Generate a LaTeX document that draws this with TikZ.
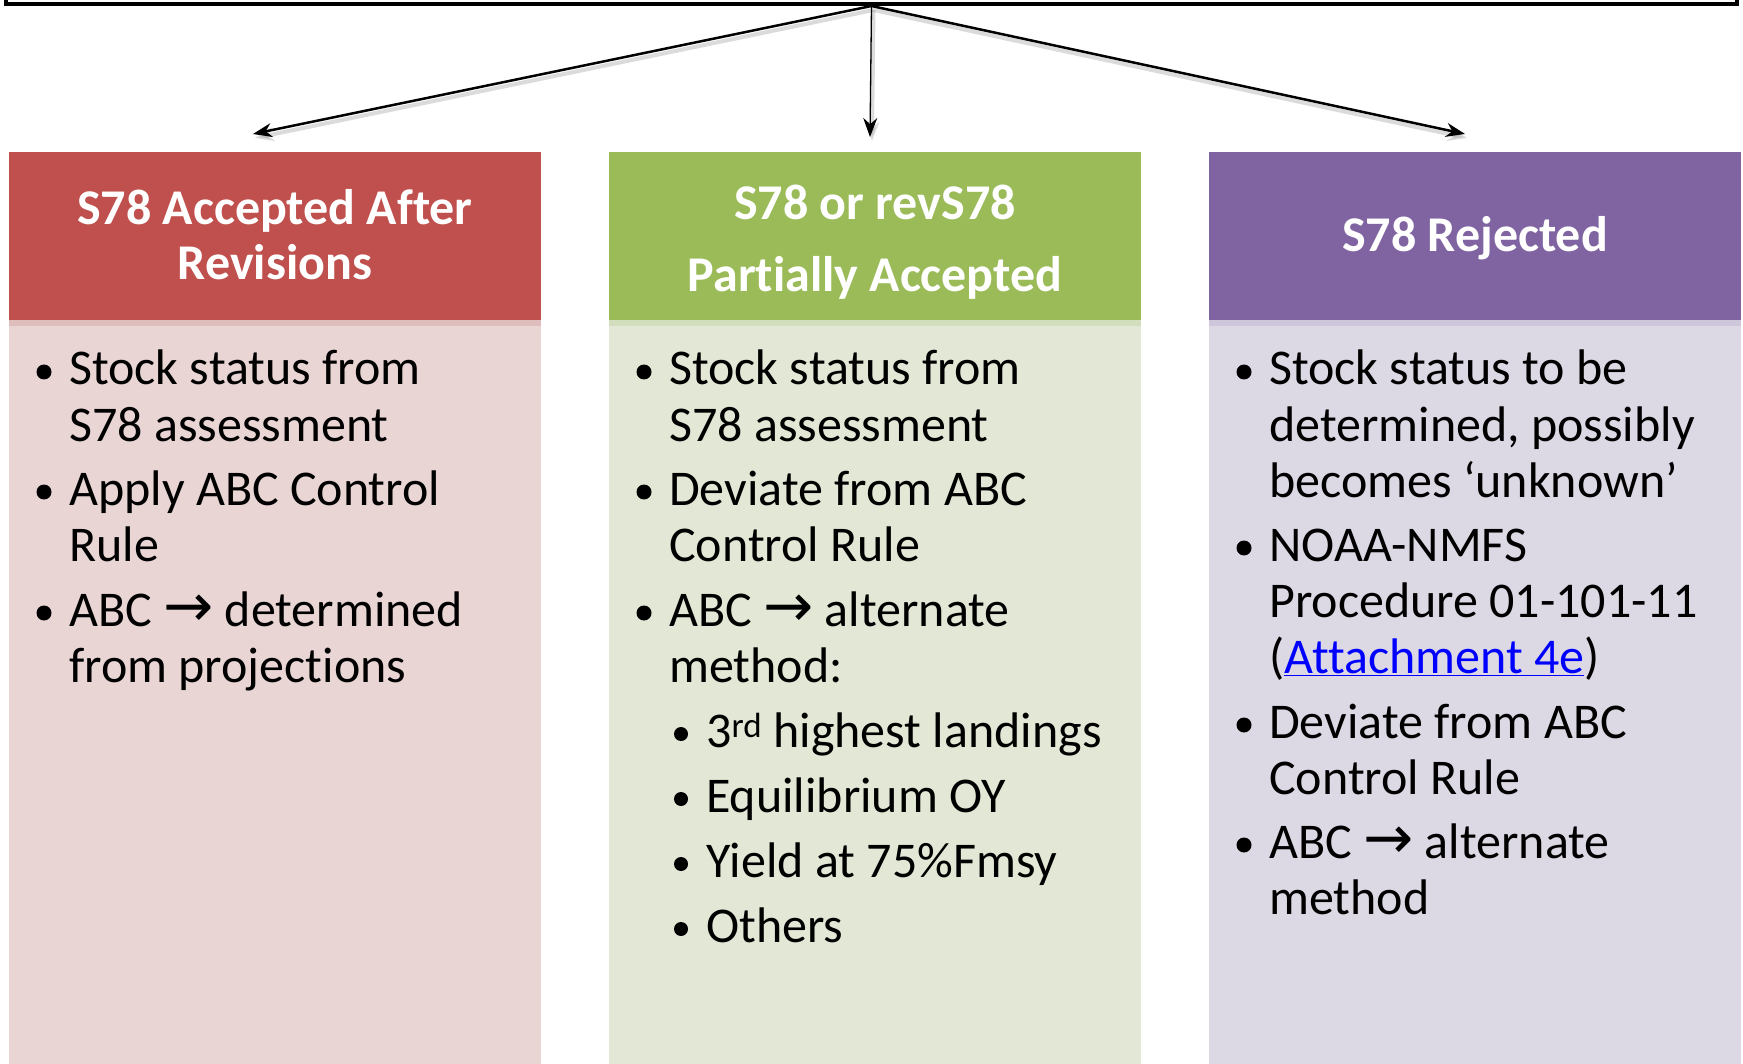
\documentclass[tikz,border=0pt]{standalone}
\usepackage{fontspec}
\setmainfont[RawFeature={-liga;-clig;-calt;-dlig}]{Carlito}
\newfontfamily\arrowfont{DejaVu Sans}
\usetikzlibrary{arrows.meta}

\definecolor{redhead}{HTML}{C0504D}
\definecolor{redstrip}{HTML}{DFBDBD}
\definecolor{redbody}{HTML}{EAD5D5}
\definecolor{greenhead}{HTML}{9BBB59}
\definecolor{greenstrip}{HTML}{D3DEBF}
\definecolor{greenbody}{HTML}{E2E8D5}
\definecolor{purphead}{HTML}{8064A2}
\definecolor{purpstrip}{HTML}{CEC6DA}
\definecolor{purpbody}{HTML}{DCD8E4}
\definecolor{linkblue}{HTML}{0000FF}

\newcommand{\rarr}{{\arrowfont\fontsize{60}{56}\selectfont →}}

\tikzset{
  bodytext/.style={anchor=base west, inner sep=0pt, font=\fontsize{50}{56}\selectfont},
  headtext/.style={anchor=base, inner sep=0pt, text=white, font=\fontsize{50}{56}\selectfont\bfseries},
  flow/.style={-{Stealth[length=19pt,width=14pt]}, line width=2.5pt,
    preaction={draw=black!40, opacity=0.35, line width=4pt, transform canvas={shift={(2pt,-4pt)}}}},
}

\begin{document}
\begin{tikzpicture}[x=1pt,y=1pt,yscale=-1,xscale=1]
        \useasboundingbox (0,0) rectangle (1743,1064);
        % top box and arrows
        \node [draw, line width=4pt, minimum width=1731pt, minimum height=80pt, inner sep=0pt, anchor=south] (top) at (871.5,6) {};
        \coordinate (tipA) at (253,134);
        \coordinate (tipB) at (870,137);
        \coordinate (tipC) at (1465,134);
        \draw [flow] (top.south) -- (tipA);
        \draw [flow, line width=1.3pt] (top.south) -- (tipB);
        \draw [flow] (top.south) -- (tipC);

        % columns
        \fill [redhead]    (9,152) -- (541,152) -- (541,320) -- (9,320) -- cycle ;
        \fill [redstrip]   (9,320) -- (541,320) -- (541,326) -- (9,326) -- cycle ;
        \fill [redbody]    (9,326) -- (541,326) -- (541,1064) -- (9,1064) -- cycle ;
        \fill [greenhead]  (609,152) -- (1141,152) -- (1141,320) -- (609,320) -- cycle ;
        \fill [greenstrip] (609,320) -- (1141,320) -- (1141,326) -- (609,326) -- cycle ;
        \fill [greenbody]  (609,326) -- (1141,326) -- (1141,1064) -- (609,1064) -- cycle ;
        \fill [purphead]   (1209,152) -- (1741,152) -- (1741,320) -- (1209,320) -- cycle ;
        \fill [purpstrip]  (1209,320) -- (1741,320) -- (1741,326) -- (1209,326) -- cycle ;
        \fill [purpbody]   (1209,326) -- (1741,326) -- (1741,1064) -- (1209,1064) -- cycle ;

        % headers
        \draw (275,225) node [headtext] (hA1) {S78 Accepted After};
        \draw (275,280) node [headtext] (hA2) {Revisions};
        \draw (875,220) node [headtext] (hB1) {S78 or revS78};
        \draw (875,292) node [headtext] (hB2) {Partially Accepted};
        \draw (1475,252) node [headtext] (hC1) {S78 Rejected};

        % left column
        \fill (44,372) circle (7.5) (44,492) circle (7.5) (44,613) circle (7.5);
        \draw (69,385) node [bodytext] (a1) {Stock status from};
        \draw (69,441) node [bodytext] (a2) {S78 assessment};
        \draw (69,505) node [bodytext] (a3) {Apply ABC Control};
        \draw (69,561) node [bodytext] (a4) {Rule};
        \draw (69,626) node [bodytext] (a5) {ABC \rarr{} determined};
        \draw (69,682) node [bodytext] (a6) {from projections};

        % middle column
        \fill (644,372) circle (7.5) (644,492) circle (7.5) (644,613) circle (7.5);
        \fill (681,734) circle (7) (681,799) circle (7) (681,864) circle (7) (681,929) circle (7);
        \draw (669,385) node [bodytext] (b1) {Stock status from};
        \draw (669,441) node [bodytext] (b2) {S78 assessment};
        \draw (669,505) node [bodytext] (b3) {Deviate from ABC};
        \draw (669,561) node [bodytext] (b4) {Control Rule};
        \draw (669,626) node [bodytext] (b5) {ABC \rarr{} alternate};
        \draw (669,682) node [bodytext] (b6) {method:};
        \draw (706,747) node [bodytext] (b7) {3\textsuperscript{rd} highest landings};
        \draw (706,812) node [bodytext] (b8) {Equilibrium OY};
        \draw (706,877) node [bodytext] (b9) {Yield at 75\%Fmsy};
        \draw (706,942) node [bodytext] (b10) {Others};

        % right column
        \fill (1244,372) circle (7.5) (1244,548) circle (7.5) (1244,725) circle (7.5) (1244,845) circle (7.5);
        \draw (1269,385) node [bodytext] (c1) {Stock status to be};
        \draw (1269,441) node [bodytext] (c2) {determined, possibly};
        \draw (1269,497) node [bodytext] (c3) {becomes ‘unknown’};
        \draw (1269,561) node [bodytext] (c4) {NOAA-NMFS};
        \draw (1269,617) node [bodytext] (c5) {Procedure 01-101-11};
        \draw (1269,673) node [bodytext] (c6) {(\textcolor{linkblue}{\underline{Attachment 4e}})};
        \draw (1269,738) node [bodytext] (c7) {Deviate from ABC};
        \draw (1269,794) node [bodytext] (c8) {Control Rule};
        \draw (1269,858) node [bodytext] (c9) {ABC \rarr{} alternate};
        \draw (1269,914) node [bodytext] (c10) {method};
    \end{tikzpicture}
\end{document}
